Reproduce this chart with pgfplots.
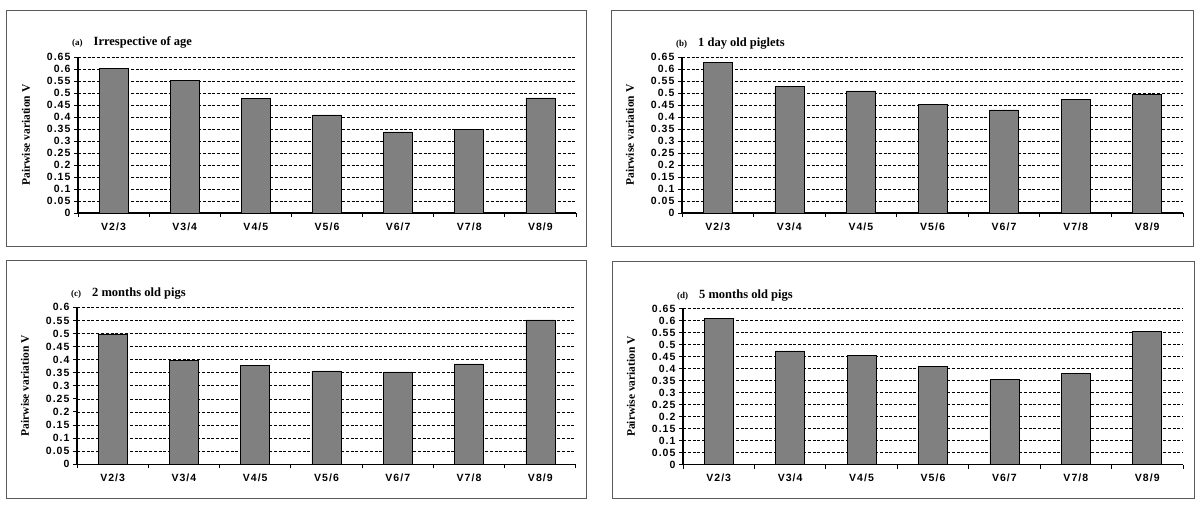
\documentclass[border=0pt]{standalone}
\usepackage{pgfplots}
\pgfplotsset{compat=1.18}
\usepackage{pgfplotstable}
\usepackage{fontspec}
\setmainfont{Liberation Serif}
\newfontfamily\tickfont{Liberation Sans}[LetterSpace=10]
\definecolor{bargray}{RGB}{128,128,128}
\definecolor{framegray}{RGB}{90,90,90}

\pgfplotstableread{
x y
1 0.601
2 0.553
3 0.476
4 0.409
5 0.338
6 0.348
7 0.480
}\dataA
\pgfplotstableread{
x y
1 0.628
2 0.526
3 0.509
4 0.451
5 0.430
6 0.473
7 0.493
}\dataB
\pgfplotstableread{
x y
1 0.498
2 0.398
3 0.378
4 0.357
5 0.353
6 0.384
7 0.552
}\dataC
\pgfplotstableread{
x y
1 0.609
2 0.473
3 0.455
4 0.409
5 0.353
6 0.378
7 0.553
}\dataD

\pgfplotsset{panel/.style={
  scale only axis,
  xmin=0.5, xmax=7.5, ymin=0,
  axis x line*=bottom, axis y line*=left,
  xtick={0.5,1.5,2.5,3.5,4.5,5.5,6.5,7.5},
  x tick label as interval,
  xticklabels={V2/3,V3/4,V4/5,V5/6,V6/7,V7/8,V8/9},
  ticklabel style={font=\tickfont\bfseries\fontsize{10.5}{12}\selectfont, text=black},
  xticklabel style={yshift=-2pt},
  /pgf/number format/assume math mode=true,
  ymajorgrids,
  major grid style={black, dash pattern=on 3pt off 1.8pt, line width=0.7pt},
  tick align=outside, major tick length=4pt,
  tick style={black, line width=1pt},
  axis line style={black, line width=1.2pt},
  ylabel={Pairwise variation V},
  ylabel style={at={(axis description cs:0,0.5)}, yshift=52pt, anchor=center,
    font=\bfseries\fontsize{11.5}{13}\selectfont},
  clip=false,
}}
\pgfplotsset{bars/.style={ybar, bar width=29pt, fill=bargray, draw=black, line width=0.6pt}}

\begin{document}
\begin{tikzpicture}[x=1pt,y=1pt]
\path[use as bounding box, fill=white] (0,0) rectangle (1200,523);
% frames
\draw[framegray, line width=0.9pt] (6,277) rectangle (586,513);
\draw[framegray, line width=0.9pt] (611,277) rectangle (1193,513);
\draw[framegray, line width=0.9pt] (6,25) rectangle (586,263);
\draw[framegray, line width=0.9pt] (612,25) rectangle (1194,262);

% (a)
\begin{axis}[panel, at={(78pt,310pt)}, anchor=south west, width=498pt, height=156pt, ymax=0.65,
  ytick={0,0.05,0.1,0.15,0.2,0.25,0.3,0.35,0.4,0.45,0.5,0.55,0.6,0.65},
  yticklabels={0,0.05,0.1,0.15,0.2,0.25,0.3,0.35,0.4,0.45,0.5,0.55,0.6,0.65}]
\addplot[bars] table[x=x,y=y]{\dataA};
\end{axis}
% (b)
\begin{axis}[panel, at={(682pt,310pt)}, anchor=south west, width=501pt, height=156pt, ymax=0.65,
  ytick={0,0.05,0.1,0.15,0.2,0.25,0.3,0.35,0.4,0.45,0.5,0.55,0.6,0.65},
  yticklabels={0,0.05,0.1,0.15,0.2,0.25,0.3,0.35,0.4,0.45,0.5,0.55,0.6,0.65}]
\addplot[bars] table[x=x,y=y]{\dataB};
\end{axis}
% (c)
\begin{axis}[panel, at={(77pt,58.7pt)}, anchor=south west, width=499pt, height=157pt, ymax=0.6,
  ytick={0,0.05,0.1,0.15,0.2,0.25,0.3,0.35,0.4,0.45,0.5,0.55,0.6},
  yticklabels={0,0.05,0.1,0.15,0.2,0.25,0.3,0.35,0.4,0.45,0.5,0.55,0.6}]
\addplot[bars] table[x=x,y=y]{\dataC};
\end{axis}
% (d)
\begin{axis}[panel, at={(683pt,58.5pt)}, anchor=south west, width=500pt, height=156pt, ymax=0.65,
  ytick={0,0.05,0.1,0.15,0.2,0.25,0.3,0.35,0.4,0.45,0.5,0.55,0.6,0.65},
  yticklabels={0,0.05,0.1,0.15,0.2,0.25,0.3,0.35,0.4,0.45,0.5,0.55,0.6,0.65}]
\addplot[bars] table[x=x,y=y]{\dataD};
\end{axis}

% titles
\node[anchor=base west, font=\bfseries\fontsize{12.5}{14}\selectfont, inner sep=0pt] at (72,477) {{\fontsize{9}{10}\selectfont(a)}\hspace{11pt}Irrespective of age};
\node[anchor=base west, font=\bfseries\fontsize{12.5}{14}\selectfont, inner sep=0pt] at (676,476) {{\fontsize{9}{10}\selectfont(b)}\hspace{11pt}1 day old piglets};
\node[anchor=base west, font=\bfseries\fontsize{12.5}{14}\selectfont, inner sep=0pt] at (71,226) {{\fontsize{9}{10}\selectfont(c)}\hspace{11pt}2 months old pigs};
\node[anchor=base west, font=\bfseries\fontsize{12.5}{14}\selectfont, inner sep=0pt] at (677,225) {{\fontsize{9}{10}\selectfont(d)}\hspace{11pt}5 months old pigs};
\end{tikzpicture}
\end{document}
